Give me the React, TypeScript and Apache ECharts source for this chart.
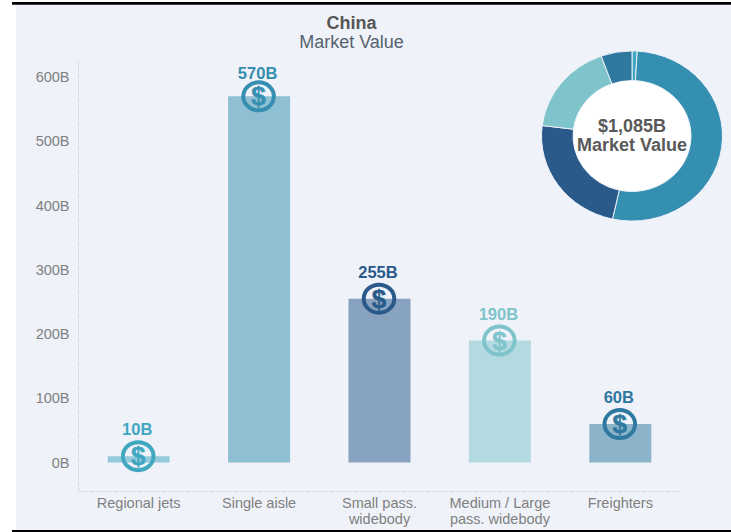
import React, { useEffect, useRef } from "react";
import * as echarts from "echarts";

const FONT = '"Liberation Sans", Arial, sans-serif';

const categories = ["Regional jets", "Single aisle", "Small pass.\nwidebody", "Medium / Large\npass. widebody", "Freighters"];
const marketValues = [10, 570, 255, 190, 60];
const valueLabels = ["10B", "570B", "255B", "190B", "60B"];
const seriesColors = ["#41a7c1", "#358fb0", "#2a5a8a", "#7fc4cb", "#2f79a0"];
const tickValues = [0, 100, 200, 300, 400, 500, 600];
const totalLabel = "$1,085B";

export default function App() {
  const mainRef = useRef<HTMLDivElement>(null);
  const donutRef = useRef<HTMLDivElement>(null);

  useEffect(() => {
    const chart = echarts.init(mainRef.current!, null, { renderer: "svg" });
    const donut = echarts.init(donutRef.current!, null, { renderer: "svg" });

    chart.setOption({
      animation: false,
      backgroundColor: "#ffffff",
      grid: { left: 78.5, right: 50.5, top: 61, bottom: 40.5 },
      xAxis: {
        type: "category",
        data: categories,
        axisLine: { onZero: false, lineStyle: { color: "#d9d9d9", type: "dashed", width: 1 } },
        axisTick: { show: false },
        axisLabel: { fontFamily: FONT, fontSize: 14.5, color: "#808080", margin: 3, lineHeight: 16, interval: 0 },
      },
      yAxis: {
        type: "value",
        min: -45,
        max: 625,
        interval: 5,
        splitLine: { show: false },
        axisTick: { show: false },
        axisLine: { show: true, lineStyle: { color: "#d9d9d9", type: "dashed", width: 1 } },
        axisLabel: {
          fontFamily: FONT,
          fontSize: 14.5,
          color: "#808080",
          margin: 9,
          formatter: (v: number) => (tickValues.includes(v) ? `${v}B` : ""),
        },
      },
      graphic: [
        { type: "rect", z: -10, shape: { x: 16, y: 5, width: 715, height: 525 }, style: { fill: "#eff2f9" } },
        { type: "rect", z: -9, shape: { x: 12, y: 2, width: 719, height: 2.7 }, style: { fill: "#000000" } },
        { type: "rect", z: -9, shape: { x: 12, y: 530, width: 719, height: 2 }, style: { fill: "#000000" } },
        {
          type: "text",
          z: 6,
          x: 351.5,
          y: 23,
          style: { text: "China", fontFamily: FONT, fontSize: 18, fontWeight: "bold", fill: "#555555", align: "center", verticalAlign: "middle" },
        },
        {
          type: "text",
          z: 6,
          x: 351.5,
          y: 42,
          style: { text: "Market Value", fontFamily: FONT, fontSize: 18, fill: "#56636f", align: "center", verticalAlign: "middle" },
        },
        { type: "ellipse", z: 5, shape: { cx: 632, cy: 135.5, rx: 59, ry: 55.5 }, style: { fill: "#ffffff" } },
        {
          type: "text",
          z: 6,
          x: 632,
          y: 126,
          style: { text: totalLabel, fontFamily: FONT, fontSize: 18, fontWeight: "bold", fill: "#595959", align: "center", verticalAlign: "middle" },
        },
        {
          type: "text",
          z: 6,
          x: 632,
          y: 145,
          style: { text: "Market Value", fontFamily: FONT, fontSize: 18, fontWeight: "bold", fill: "#595959", align: "center", verticalAlign: "middle" },
        },
      ],
      series: [
        {
          type: "bar",
          barWidth: 62,
          data: marketValues.map((value, i) => ({ value, itemStyle: { color: seriesColors[i], opacity: 0.52 } })),
        },
        {
          // Dollar coin centred on each bar's top, with the value above it.
          type: "custom",
          clip: false,
          data: marketValues.map((value, i) => [i, value]),
          encode: { x: 0, y: 1 },
          renderItem: (params: any, api: any) => {
            const i = params.dataIndex;
            const [x, y] = api.coord([api.value(0), api.value(1)]);
            const color = seriesColors[i];
            return {
              type: "group",
              children: [
                { type: "ellipse", shape: { cx: x - 0.5, cy: y, rx: 15.3, ry: 14 }, style: { fill: "none", stroke: color, lineWidth: 4 } },
                {
                  type: "text",
                  style: { text: "$", x: x - 0.5, y, fontFamily: FONT, fontSize: 26, fontWeight: "bold", fill: color, stroke: color, lineWidth: 0.5, align: "center", verticalAlign: "middle" },
                },
                {
                  type: "text",
                  style: { text: valueLabels[i], x: x - 1.5, y: y - (i === 1 ? 23 : 27), fontFamily: FONT, fontSize: 16.5, fontWeight: "bold", fill: color, align: "center", verticalAlign: "middle" },
                },
              ],
            };
          },
        },
      ],
    });

    donut.setOption({
      animation: false,
      series: [
        {
          type: "pie",
          center: [100, 100],
          radius: [59, 90.5],
          startAngle: 90,
          clockwise: true,
          label: { show: false },
          labelLine: { show: false },
          itemStyle: { borderColor: "#eff2f9", borderWidth: 1 },
          data: marketValues.map((value, i) => ({
            value,
            name: categories[i],
            itemStyle: { color: seriesColors[i] },
          })),
        },
      ],
    });

    return () => {
      chart.dispose();
      donut.dispose();
    };
  }, []);

  return (
    <div style={{ position: "absolute", left: 0, top: 0, width: 731, height: 532, overflow: "hidden" }}>
      <div ref={mainRef} style={{ position: "absolute", left: 0, top: 0, width: 731, height: 532 }} />
      {/* The ring is drawn slightly wider than tall */}
      <div
        ref={donutRef}
        style={{ position: "absolute", left: 532, top: 35.5, width: 200, height: 200, transform: "scaleY(0.94)", transformOrigin: "50% 50%" }}
      />
    </div>
  );
}
